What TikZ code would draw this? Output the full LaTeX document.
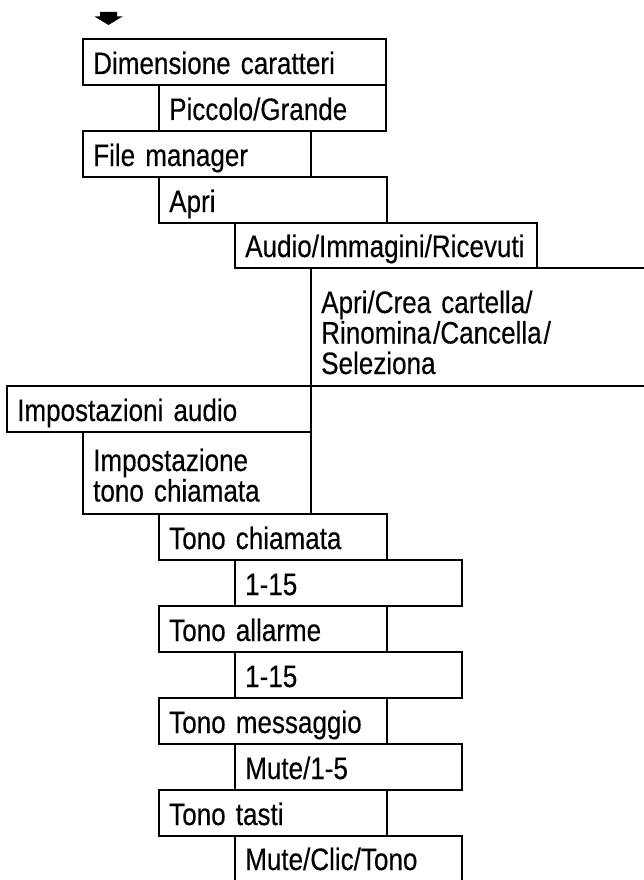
\documentclass[tikz,border=0pt]{standalone}
\usepackage{fontspec}
\setmainfont{Liberation Sans}[FakeStretch=0.84,FakeBold=0.3,WordSpace=1.4]
\newcommand\celllines[1]{\vtop{\baselineskip=30.5pt #1}}
\begin{document}
\begin{tikzpicture}[x=1pt,y=-1pt,
  cell/.style={draw=black, line width=1.6pt, rectangle, inner sep=0pt, outer sep=0pt, anchor=north west},
  opencell/.style={rectangle, inner sep=0pt, outer sep=0pt, anchor=north west},
  border/.style={draw=black, line width=1.6pt},
  txt/.style={inner sep=0pt, anchor=base west, font=\fontsize{31}{30.5}\selectfont},
  txtml/.style={inner sep=0pt, anchor=base west, font=\fontsize{31}{30.5}\selectfont}]
\useasboundingbox (0,0) rectangle (643,880);
\fill[white] (0,0) rectangle (643,880);

% top arrow
\fill[black] (100,12) -- (117,12) -- (117,16.5) -- (122.5,16.5) -- (108.5,25) -- (94.5,16.5) -- (100,16.5) -- cycle;

% cells
\node[cell, minimum width=303pt, minimum height=46pt] (dim) at (83,39) {};
\node[cell, minimum width=227pt, minimum height=46pt] (pic) at (159,85) {};
\node[cell, minimum width=228pt, minimum height=46pt] (fm)  at (83,131) {};
\node[cell, minimum width=228pt, minimum height=46pt] (apri) at (159,177) {};
\node[cell, minimum width=302pt, minimum height=45pt] (aud) at (235,223) {};
\node[opencell, minimum width=340pt, minimum height=118pt] (apc) at (311,268) {};
\draw[border] (apc.north east) -- (apc.north west) -- (apc.south west) -- (apc.south east);
\node[cell, minimum width=304pt, minimum height=46pt] (imp) at (7,386) {};
\node[cell, minimum width=228pt, minimum height=82pt] (itc) at (83,432) {};
\node[cell, minimum width=228pt, minimum height=46pt] (tc)  at (159,514) {};
\node[cell, minimum width=227pt, minimum height=46pt] (n1)  at (235,560) {};
\node[cell, minimum width=228pt, minimum height=46pt] (ta)  at (159,606) {};
\node[cell, minimum width=227pt, minimum height=46pt] (n2)  at (235,652) {};
\node[cell, minimum width=228pt, minimum height=46pt] (tm)  at (159,698) {};
\node[cell, minimum width=227pt, minimum height=46pt] (m15) at (235,744) {};
\node[cell, minimum width=228pt, minimum height=46pt] (tt)  at (159,790) {};
\node[opencell, minimum width=227pt, minimum height=50pt] (mct) at (235,836) {};
\draw[border] (mct.south west) -- (mct.north west) -- (mct.north east) -- (mct.south east);

% texts
\node[txt] (dimt) at ([shift={(10pt,11pt)}]dim.south west) {Dimensione caratteri};
\node[txt] (pict) at ([shift={(10pt,11pt)}]pic.south west) {Piccolo/Grande};
\node[txt] (fmt)  at ([shift={(10pt,11pt)}]fm.south west) {File manager};
\node[txt] (aprit) at ([shift={(10pt,11pt)}]apri.south west) {Apri};
\node[txt] (audt) at ([shift={(10pt,11pt)}]aud.south west) {Audio/Immagini/Ricevuti};
\node[txtml] (apct) at ([shift={(10pt,-45pt)}]apc.north west)
  {\celllines{\hbox{Apri/Crea cartella/}\hbox{Rinomina\kern2pt/Cancella\kern2pt/}\hbox{Seleziona}}};
\node[txt] (impt) at ([shift={(10pt,11pt)}]imp.south west) {Impostazioni audio};
\node[txtml] (itct) at ([shift={(10pt,-39pt)}]itc.north west)
  {\celllines{\hbox{Impostazione}\hbox{tono chiamata}}};
\node[txt] (tct)  at ([shift={(10pt,11pt)}]tc.south west) {Tono chiamata};
\node[txt] (n1t)  at ([shift={(10pt,11pt)}]n1.south west) {1-15};
\node[txt] (tat)  at ([shift={(10pt,11pt)}]ta.south west) {Tono allarme};
\node[txt] (n2t)  at ([shift={(10pt,11pt)}]n2.south west) {1-15};
\node[txt] (tmt)  at ([shift={(10pt,11pt)}]tm.south west) {Tono messaggio};
\node[txt] (m15t) at ([shift={(10pt,11pt)}]m15.south west) {Mute/1-5};
\node[txt] (ttt)  at ([shift={(10pt,11pt)}]tt.south west) {Tono tasti};
\node[txt] (mctt) at ([shift={(10pt,-34pt)}]mct.north west) {Mute/Clic/Tono};
\end{tikzpicture}
\end{document}
